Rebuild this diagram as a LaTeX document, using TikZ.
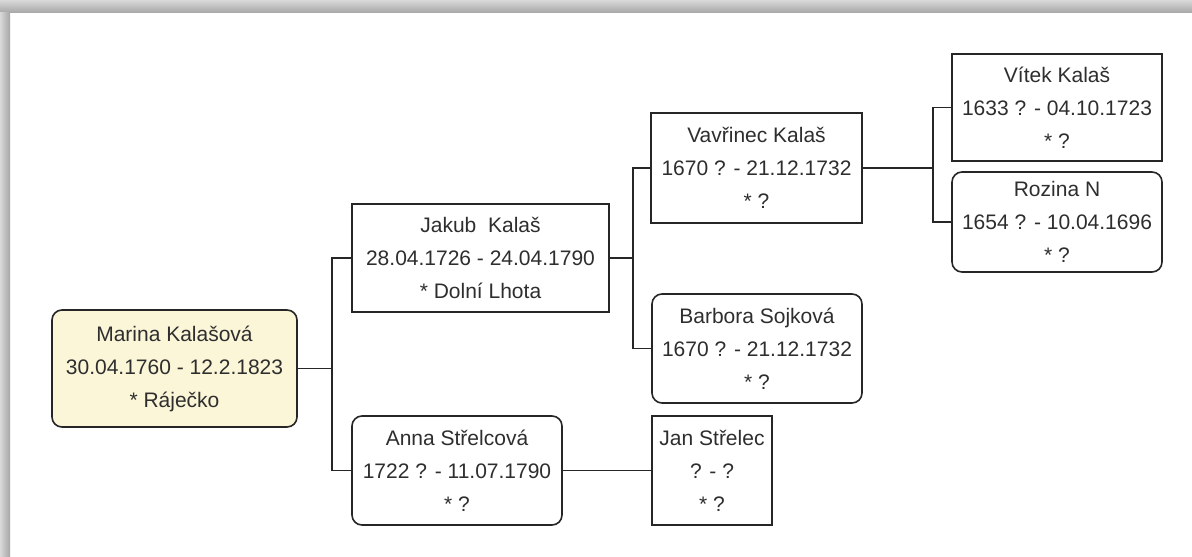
\documentclass[tikz,border=0pt]{standalone}
\usepackage{fontspec}
\setmainfont{Liberation Sans}
\usepackage{tikz}
\usetikzlibrary{shapes,arrows}
\definecolor{txtgray}{HTML}{2E2E2E}
\definecolor{rootfill}{HTML}{FBF6D8}
\tikzset{
  person/.style={draw=black!85, line width=0.8pt, align=center, text=txtgray,
    inner sep=0pt, font=\fontsize{10.5}{16.5}\selectfont},
  tbox/.style={person},
  rbox/.style={person, rounded corners=5pt},
  link/.style={draw=black!85, line width=0.8pt}
}
\begin{document}
\begin{tikzpicture}[x=0.5pt,y=-0.5pt]
\useasboundingbox (0,0) rectangle (1192,556);
\fill[white] (0,0) rectangle (1192,556);

% to draw window shadow
\shade[top color=gray!30, bottom color=gray!70] (0,0) rectangle (1192,13);
\shade[left color=gray!30, right color=gray!70] (0,13) rectangle (10,556);

% to write persons
\node [rbox, fill=rootfill, minimum width=122.5pt, minimum height=58.5pt] (marina) at (174.5,368.5)
  {Marina Kalašová\\30.04.1760 - 12.2.1823\\* Ráječko};
\node [tbox, minimum width=128.5pt, minimum height=54pt] (jakub) at (480.5,258)
  {Jakub\ \ Kalaš\\28.04.1726 - 24.04.1790\\* Dolní Lhota};
\node [rbox, minimum width=105pt, minimum height=54.5pt] (anna) at (457,470.5)
  {Anna Střelcová\\1722 ? - 11.07.1790\\* ?};
\node [tbox, minimum width=105.5pt, minimum height=55pt] (vavrinec) at (756.5,168)
  {Vavřinec Kalaš\\1670 ? - 21.12.1732\\* ?};
\node [rbox, minimum width=105pt, minimum height=54.5pt] (barbora) at (757,348.5)
  {Barbora Sojková\\1670 ? - 21.12.1732\\* ?};
\node [tbox, minimum width=60pt, minimum height=54.5pt] (jan) at (712,470.5)
  {Jan Střelec\\? - ?\\* ?};
\node [tbox, minimum width=105pt, minimum height=53.5pt] (vitek) at (1057,107.5)
  {Vítek Kalaš\\1633 ? - 04.10.1723\\* ?};
\node [rbox, minimum width=105pt, minimum height=50pt] (rozina) at (1057,222)
  {Rozina N\\1654 ? - 10.04.1696\\* ?};

% to draw parent links
\draw [link] (marina.east) -- ++(34,0) coordinate (m1);
\draw [link] (m1) |- (jakub.west);
\draw [link] (m1) |- (anna.west);
\draw [link] (jakub.east) -- ++(23,0) coordinate (j1);
\draw [link] (j1) |- (vavrinec.west);
\draw [link] (j1) |- (barbora.west);
\draw [link] (vavrinec.east) -- ++(70,0) coordinate (v1);
\draw [link] (v1) |- (vitek.west);
\draw [link] (v1) |- (rozina.west);
\draw [link] (anna.east) -- (jan.west);
\end{tikzpicture}
\end{document}
